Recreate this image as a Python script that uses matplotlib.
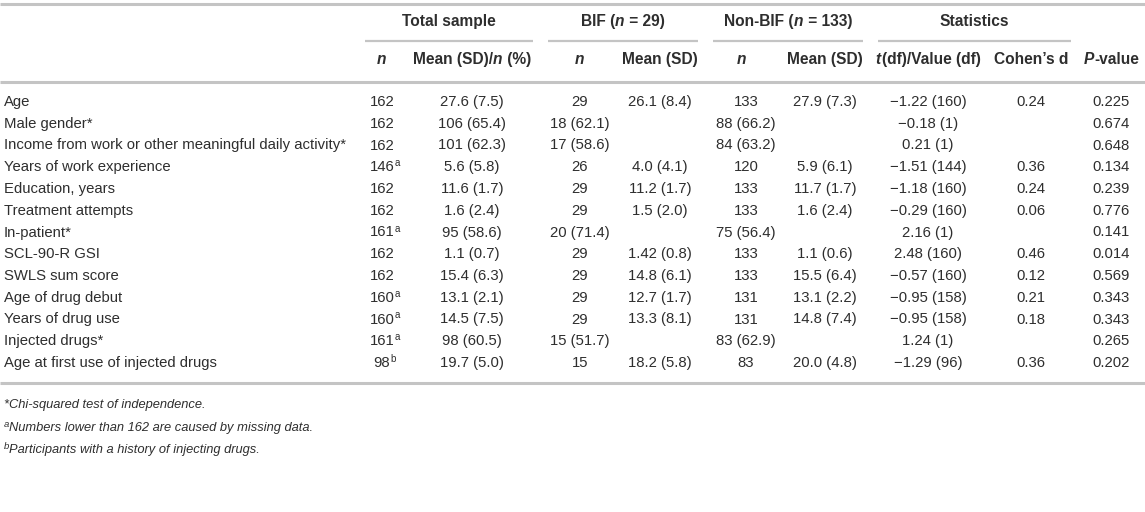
import matplotlib
matplotlib.use("Agg")
import matplotlib.pyplot as plt

plt.rcParams['font.family'] = ['Liberation Sans', 'DejaVu Sans']

# table data
variables = ["Age", "Male gender*", "Income from work or other meaningful daily activity*",
             "Years of work experience", "Education, years", "Treatment attempts", "In-patient*",
             "SCL-90-R GSI", "SWLS sum score", "Age of drug debut", "Years of drug use",
             "Injected drugs*", "Age at first use of injected drugs"]
total_n = ["162", "162", "162", "146", "162", "162", "161", "162", "162", "160", "160", "161", "98"]
total_n_sup = ["", "", "", "a", "", "", "a", "", "", "a", "a", "a", "b"]
total_mean = ["27.6 (7.5)", "106 (65.4)", "101 (62.3)", "5.6 (5.8)", "11.6 (1.7)", "1.6 (2.4)",
              "95 (58.6)", "1.1 (0.7)", "15.4 (6.3)", "13.1 (2.1)", "14.5 (7.5)", "98 (60.5)", "19.7 (5.0)"]
bif_n = ["29", "18 (62.1)", "17 (58.6)", "26", "29", "29", "20 (71.4)", "29", "29", "29", "29",
         "15 (51.7)", "15"]
bif_mean = ["26.1 (8.4)", "", "", "4.0 (4.1)", "11.2 (1.7)", "1.5 (2.0)", "", "1.42 (0.8)",
            "14.8 (6.1)", "12.7 (1.7)", "13.3 (8.1)", "", "18.2 (5.8)"]
nonbif_n = ["133", "88 (66.2)", "84 (63.2)", "120", "133", "133", "75 (56.4)", "133", "133", "131",
            "131", "83 (62.9)", "83"]
nonbif_mean = ["27.9 (7.3)", "", "", "5.9 (6.1)", "11.7 (1.7)", "1.6 (2.4)", "", "1.1 (0.6)",
               "15.5 (6.4)", "13.1 (2.2)", "14.8 (7.4)", "", "20.0 (4.8)"]
stat_value = ["\u22121.22 (160)", "\u22120.18 (1)", "0.21 (1)", "\u22121.51 (144)", "\u22121.18 (160)",
              "\u22120.29 (160)", "2.16 (1)", "2.48 (160)", "\u22120.57 (160)", "\u22120.95 (158)",
              "\u22120.95 (158)", "1.24 (1)", "\u22121.29 (96)"]
cohen_d = ["0.24", "", "", "0.36", "0.24", "0.06", "", "0.46", "0.12", "0.21", "0.18", "", "0.36"]
p_value = ["0.225", "0.674", "0.648", "0.134", "0.239", "0.776", "0.141", "0.014", "0.569",
           "0.343", "0.343", "0.265", "0.202"]

W, H = 1145, 512
fig = plt.figure(figsize=(W / 100, H / 100), dpi=100)
ax = fig.add_axes([0, 0, 1, 1])
ax.set_xlim(0, W)
ax.set_ylim(H, 0)
ax.axis('off')
renderer = fig.canvas.get_renderer()

TXT = '#2e2e2e'
LINE = '#c4c4c4'
FS = 10.7     # body
HFS = 11.2    # header
BASE = 4.0    # baseline offset below row centre


def parts(x, y, segs, ha='center'):
    # segs: list of (string, options) drawn side by side, on one baseline
    items = []
    for s, o in segs:
        t = ax.text(0, y + BASE + o.get('dy', 0), s, ha='left', va='baseline', color=TXT,
                    fontsize=o.get('size', FS), fontweight=o.get('weight', 'normal'),
                    fontstyle=o.get('style', 'normal'))
        items.append((t, o))
    widths = []
    for t, o in items:
        w = t.get_window_extent(renderer).width
        if o.get('pad'):
            w += o['pad']
        widths.append(w)
    total = sum(widths)
    x0 = x - total / 2 if ha == 'center' else x
    for (t, o), w in zip(items, widths):
        t.set_x(x0)
        x0 += w


def cell(x, y, s, ha='center'):
    return ax.text(x, y + BASE, s, ha=ha, va='baseline', color=TXT, fontsize=FS)


cols = [382, 472, 580, 660, 746, 825, 928, 1031, 1111]

# header
B = {'weight': 'bold', 'size': HFS}
BI = {'weight': 'bold', 'style': 'italic', 'size': HFS, 'pad': 1.0}
y1, y2 = 22, 60
parts(449, y1, [("Total sample", B)])
parts(623, y1, [("BIF (", B), ("n", BI), (" = 29)", B)])
parts(788, y1, [("Non-BIF (", B), ("n", BI), (" = 133)", B)])
parts(974, y1, [("Statistics", B)])
for xa, xb in [(365, 533), (548, 698), (713, 863), (878, 1071)]:
    ax.plot([xa, xb], [40.5, 40.5], color=LINE, lw=1.6, solid_capstyle='butt')

parts(cols[0], y2, [("n", BI)])
parts(cols[1], y2, [("Mean (SD)/", B), ("n", BI), (" (%)", B)])
parts(cols[2], y2, [("n", BI)])
parts(cols[3], y2, [("Mean (SD)", B)])
parts(cols[4] - 4, y2, [("n", BI)])
parts(cols[5], y2, [("Mean (SD)", B)])
parts(cols[6], y2, [("t", dict(BI, pad=1.8)), ("(df)/Value (df)", B)])
parts(cols[7], y2, [("Cohen\u2019s d", B)])
parts(cols[8], y2, [("P", dict(BI, pad=0.3)), ("-value", B)])

for yl in [4, 82, 383]:
    ax.plot([0, W], [yl, yl], color=LINE, lw=2.2, solid_capstyle='butt')

# body
row0, step = 102, 21.75
for i, name in enumerate(variables):
    y = row0 + i * step
    cell(4, y, name, ha='left')
    t = cell(cols[0], y, total_n[i])
    if total_n_sup[i]:
        bb = t.get_window_extent(renderer)
        ax.text(bb.x1 + 0.3, y + BASE - 5, total_n_sup[i], ha='left', va='baseline',
                color=TXT, fontsize=7)
    row = [total_mean[i], bif_n[i], bif_mean[i], nonbif_n[i], nonbif_mean[i],
           stat_value[i], cohen_d[i], p_value[i]]
    for x, s in zip(cols[1:], row):
        if s:
            cell(x, y, s)

# footnotes
I = {'style': 'italic', 'size': 9.3}
SUP = {'style': 'italic', 'size': 6.8, 'dy': -4}
parts(4, 404, [("*Chi-squared test of independence.", I)], ha='left')
parts(4, 427, [("a", SUP), ("Numbers lower than 162 are caused by missing data.", I)], ha='left')
parts(4, 449, [("b", SUP), ("Participants with a history of injecting drugs.", I)], ha='left')

fig.savefig("out.png", dpi=100)
